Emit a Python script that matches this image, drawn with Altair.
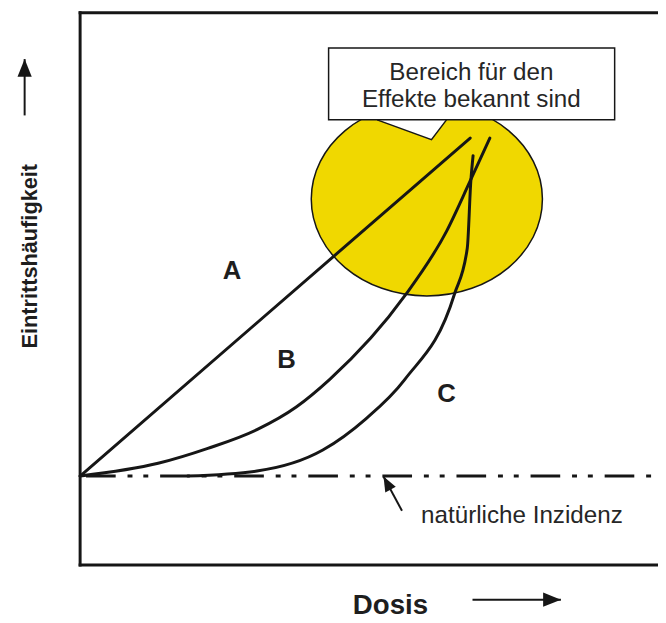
import altair as alt
import pandas as pd

# Coordinate system of the diagram: Dosis 0..100 (left frame -> right edge),
# Eintrittshäufigkeit 0..100 (bottom frame -> top frame)

# Dose-response curves
curve_A_x = [0.0, 67.5]
curve_A_y = [16.1, 77.3]
curve_B_x = [0.0, 13.5, 22.1, 30.6, 37.4, 43.2, 56.2, 63.4, 67.4, 70.9]
curve_B_y = [16.1, 18.4, 21.1, 24.5, 28.6, 33.6, 48.75, 60.4, 69.3, 77.3]
curve_C_x = [18.6, 30.6, 42.0, 49.4, 56.2, 64.8, 67.0, 67.6, 68.0]
curve_C_y = [16.1, 17.0, 20.8, 26.4, 33.6, 49.1, 57.4, 69.3, 74.1]

curve_labels = ["A", "B", "C"]
curve_label_x = [26.3, 35.7, 63.4]
curve_label_y = [53.2, 37.1, 30.9]

natural_incidence_y = 16.1
natural_incidence_text = "natürliche Inzidenz"
natural_text_pos = [59.0, 7.5]

# Region where effects are known (yellow area) and its callout
region_center = [60.0, 66.25]
callout_x = [51.4, 60.8, 63.4]
callout_top = [80.6, 80.6, 80.6]
callout_tip = [80.6, 77.0, 80.6]
box_x = [43.0, 92.5]
box_y = [80.6, 93.6]
box_lines = ["Bereich für den", "Effekte bekannt sind"]
box_line_x = [67.7, 67.7]
box_line_y = [87.9, 83.0]

# Axis titles and arrows
y_title = "Eintrittshäufigkeit"
y_title_pos = [-8.7, 55.9]
x_title = "Dosis"
x_title_pos = [53.7, -8.9]
arrow_names = ["incidence", "y_axis", "x_axis"]
arrow_tail_x = [55.7, -9.6, 67.9]
arrow_tail_y = [9.8, 81.4, -6.3]
arrow_tip_x = [52.5, -9.6, 83.2]
arrow_tip_y = [16.0, 91.6, -6.3]
arrow_angle = [331.7, 0, 90]
arrow_head_size = [900, 1296, 1296]

INK = "#161616"
TEXT = "#262626"
YELLOW = "#F0D800"
W, H = 585, 559

xs = alt.Scale(domain=[0, 100], nice=False, zero=False)
ys = alt.Scale(domain=[0, 100], nice=False, zero=False)

def X(f="x"):
    return alt.X(f"{f}:Q", scale=xs, axis=None)

def Y(f="y"):
    return alt.Y(f"{f}:Q", scale=ys, axis=None)

# ---------- data tables ----------
curves = pd.DataFrame(
    [("A", i, x, y) for i, (x, y) in enumerate(zip(curve_A_x, curve_A_y))]
    + [("B", i, x, y) for i, (x, y) in enumerate(zip(curve_B_x, curve_B_y))]
    + [("C", i, x, y) for i, (x, y) in enumerate(zip(curve_C_x, curve_C_y))],
    columns=["curve", "order", "x", "y"],
)
labels = pd.DataFrame({"t": curve_labels, "x": curve_label_x, "y": curve_label_y})
region = pd.DataFrame({"x": [region_center[0]], "y": [region_center[1]]})
callout = pd.DataFrame({"x": callout_x, "y": callout_top, "y2": callout_tip})
box = pd.DataFrame({"x": [box_x[0]], "x2": [box_x[1]], "y": [box_y[0]], "y2": [box_y[1]]})
box_text = pd.DataFrame({"t": box_lines, "x": box_line_x, "y": box_line_y})
baseline = pd.DataFrame({"x": [0.0], "x2": [100.0], "y": [natural_incidence_y]})
nat_text = pd.DataFrame({"t": [natural_incidence_text], "x": [natural_text_pos[0]], "y": [natural_text_pos[1]]})
arrows = pd.DataFrame({
    "name": arrow_names, "x": arrow_tail_x, "y": arrow_tail_y,
    "x2": arrow_tip_x, "y2": arrow_tip_y, "ang": arrow_angle, "sz": arrow_head_size,
})
ytitle = pd.DataFrame({"t": [y_title], "x": [y_title_pos[0]], "y": [y_title_pos[1]]})
xtitle = pd.DataFrame({"t": [x_title], "x": [x_title_pos[0]], "y": [x_title_pos[1]]})
frame = pd.DataFrame({
    "x": [0.0, 0.0, 0.0], "x2": [0.0, 100.0, 100.0],
    "y": [0.0, 100.0, 0.0], "y2": [100.0, 100.0, 0.0],
})

# ---------- layers ----------
ellipse_path = ("M-1,0C-1,-0.463,-0.552,-0.838,0,-0.838C0.552,-0.838,1,-0.463,1,0"
                "C1,0.463,0.552,0.838,0,0.838C-0.552,0.838,-1,0.463,-1,0Z")
region_layer = alt.Chart(region).mark_point(
    shape=ellipse_path, size=54756, filled=True, fill=YELLOW, stroke=INK,
    strokeWidth=1.5, opacity=1,
).encode(x=X(), y=Y())

callout_fill = alt.Chart(callout).mark_area(color="white", interpolate="linear").encode(
    x=X(), y=Y(), y2="y2:Q")
callout_edge = alt.Chart(callout).mark_line(color=INK, strokeWidth=1.5).encode(
    x=X(), y=Y("y2"))

box_layer = alt.Chart(box).mark_rect(fill="white", stroke=INK, strokeWidth=1.5).encode(
    x=X(), x2="x2:Q", y=Y(), y2="y2:Q")
box_text_layer = alt.Chart(box_text).mark_text(
    font="Liberation Sans", fontSize=24.5, color=TEXT, align="center", baseline="alphabetic",
).encode(x=X(), y=Y(), text="t:N")

curve_layer = alt.Chart(curves).mark_line(
    strokeWidth=3, interpolate="monotone", color=INK, strokeCap="round",
).encode(x=X(), y=Y(), detail="curve:N", order="order:Q")

baseline_layer = alt.Chart(baseline).mark_rule(
    color=INK, strokeWidth=3, strokeDash=[30, 12, 5, 11, 5, 12], strokeDashOffset=69,
).encode(x=X(), x2="x2:Q", y=Y())

label_layer = alt.Chart(labels).mark_text(
    font="Liberation Sans", fontWeight="bold", fontSize=26, color="#1e1e1e",
    align="center", baseline="middle",
).encode(x=X(), y=Y(), text="t:N")

nat_layer = alt.Chart(nat_text).mark_text(
    font="Liberation Sans", fontSize=24.5, color=TEXT, align="left", baseline="alphabetic",
).encode(x=X(), y=Y(), text="t:N")

arrow_shafts = alt.Chart(arrows).mark_rule(color=INK, strokeWidth=2).encode(
    x=X(), y=Y(), x2="x2:Q", y2="y2:Q")
arrow_heads = alt.Chart(arrows).mark_point(
    shape="M0,0L-0.4,1L0.4,1Z", filled=True, fill=INK, opacity=1, strokeWidth=0,
).encode(
    x=X("x2"), y=Y("y2"),
    angle=alt.Angle("ang:Q", scale=None),
    size=alt.Size("sz:Q", scale=None),
)

ytitle_layer = alt.Chart(ytitle).mark_text(
    font="Liberation Sans", fontWeight="bold", fontSize=22, color="#1e1e1e",
    angle=270, align="center", baseline="middle",
).encode(x=X(), y=Y(), text="t:N")
xtitle_layer = alt.Chart(xtitle).mark_text(
    font="Liberation Sans", fontWeight="bold", fontSize=28, color="#1e1e1e",
    align="center", baseline="alphabetic",
).encode(x=X(), y=Y(), text="t:N")

frame_layer = alt.Chart(frame).mark_rule(color=INK, strokeWidth=3, strokeCap="square").encode(
    x=X(), x2="x2:Q", y=Y(), y2="y2:Q")

chart = alt.layer(
    region_layer, callout_fill, callout_edge, box_layer, box_text_layer,
    curve_layer, baseline_layer, label_layer, nat_layer,
    arrow_shafts, arrow_heads, ytitle_layer, xtitle_layer, frame_layer,
).properties(
    width=W, height=H,
    padding={"left": 73, "top": 1, "right": 0, "bottom": 52},
    autosize=alt.AutoSizeParams(type="none"),
    background="white",
).configure_view(stroke=None)

chart.save("out.html", embed_options={"renderer": "svg", "actions": False})
